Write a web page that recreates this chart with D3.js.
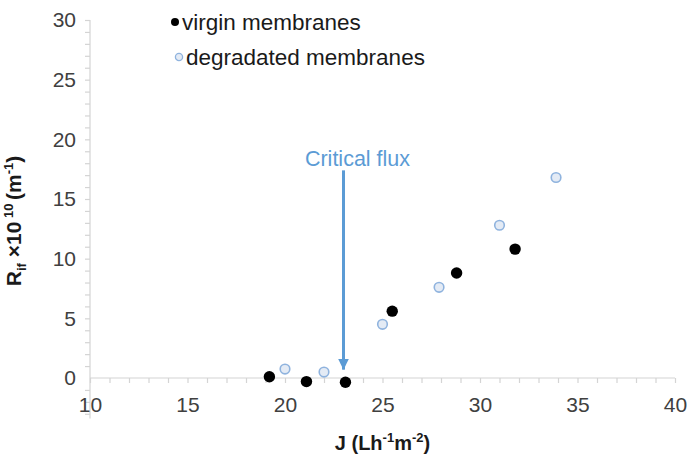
<!DOCTYPE html>
<html>
<head>
<meta charset="utf-8">
<script src="https://cdn.jsdelivr.net/npm/d3@7"></script>
<style>
  body { margin: 0; background: #fff; }
  svg { display: block; font-family: 'Liberation Sans', Arial, sans-serif; }
</style>
</head>
<body>
<div id="chart"></div>
<script>
// Resistance vs flux data
const virginJ = [19.2, 21.1, 23.1, 25.5, 28.8, 31.8]
const virginR = [0.1, -0.3, -0.35, 5.6, 8.8, 10.8]
const degradedJ = [20.0, 22.0, 25.0, 27.9, 31.0, 33.9]
const degradedR = [0.75, 0.5, 4.5, 7.6, 12.8, 16.8]
const xTicks = [10, 15, 20, 25, 30, 35, 40]
const yTicks = [0, 5, 10, 15, 20, 25, 30]
const seriesNames = ['virgin membranes', 'degradated membranes']
const criticalFlux = 23
const arrowFrom = 17.4
const arrowTo = 0.7

const width = 689
const height = 456
const margin = { top: 20, right: 14, bottom: 78, left: 90 }

const svg = d3
  .select('#chart')
  .append('svg')
  .attr('width', width)
  .attr('height', height)

const x = d3.scaleLinear().domain([10, 40]).range([margin.left, width - margin.right])
const y = d3.scaleLinear().domain([0, 30]).range([height - margin.bottom, margin.top])

const axisColor = '#d4d4d4'
const labelColor = '#404040'

// y axis: minor tick every unit, labels on multiples of 5, runs a bit below zero
const yAxis = d3
  .axisLeft(y)
  .tickValues(d3.range(-3, 31))
  .tickSize(5)
  .tickPadding(9)
  .tickFormat((d) => (yTicks.includes(d) ? d : ''))

const yG = svg.append('g').attr('transform', `translate(${x(10)},0)`).call(yAxis)
yG.select('.domain').attr('d', `M0,${y(-3.4)}V${y(30)}`)

// x axis crosses at zero
const xAxis = d3
  .axisBottom(x)
  .tickValues(d3.range(10, 41))
  .tickSize(5)
  .tickPadding(14)
  .tickFormat((d) => (xTicks.includes(d) ? d : ''))

const xG = svg.append('g').attr('transform', `translate(0,${y(0)})`).call(xAxis)
xG.select('.domain').attr('d', `M${x(10)},0H${x(40)}`)

svg.selectAll('.domain').attr('stroke', axisColor).attr('stroke-width', 1.2)
svg.selectAll('.tick line').attr('stroke', axisColor).attr('stroke-width', 1.2)
svg
  .selectAll('.tick text')
  .attr('fill', labelColor)
  .style('font-size', '21px')
  .style('font-family', "'Liberation Sans', Arial, sans-serif")
yG.selectAll('.tick').filter((d) => d === 0).select('line').attr('x2', 0)

// axis titles
const xTitle = svg
  .append('text')
  .attr('x', (x(10) + x(40)) / 2)
  .attr('y', 450)
  .attr('text-anchor', 'middle')
  .attr('font-weight', 'bold')
  .attr('font-size', 20)
  .attr('fill', '#1a1a1a')
xTitle.append('tspan').text('J (Lh')
xTitle.append('tspan').attr('font-size', 13).attr('dy', -8).text('-1')
xTitle.append('tspan').attr('dy', 8).text('m')
xTitle.append('tspan').attr('font-size', 13).attr('dy', -8).text('-2')
xTitle.append('tspan').attr('dy', 8).text(')')

const yTitle = svg
  .append('text')
  .attr('transform', `translate(21,221) rotate(-90)`)
  .attr('text-anchor', 'middle')
  .attr('font-weight', 'bold')
  .attr('font-size', 21)
  .attr('fill', '#1a1a1a')
yTitle.append('tspan').text('R')
yTitle.append('tspan').attr('font-size', 13).attr('dy', 5).text('if')
yTitle.append('tspan').attr('dy', -5).text(' \u00d710')
yTitle.append('tspan').attr('font-size', 13).attr('dy', -8).text(' 10 ')
yTitle.append('tspan').attr('dy', 8).text('(m')
yTitle.append('tspan').attr('font-size', 13).attr('dy', -8).text('-1')
yTitle.append('tspan').attr('dy', 8).text(')')

// critical flux arrow
const arrowColor = '#5b9bd5'
svg
  .append('defs')
  .append('marker')
  .attr('id', 'head')
  .attr('viewBox', '0 0 10 10')
  .attr('refX', 10)
  .attr('refY', 5)
  .attr('markerWidth', 3.6)
  .attr('markerHeight', 3.6)
  .attr('orient', 'auto')
  .append('path')
  .attr('d', 'M0,0L10,5L0,10Z')
  .attr('fill', arrowColor)

svg
  .append('line')
  .attr('x1', x(criticalFlux))
  .attr('x2', x(criticalFlux))
  .attr('y1', y(arrowFrom))
  .attr('y2', y(arrowTo))
  .attr('stroke', arrowColor)
  .attr('stroke-width', 3)
  .attr('marker-end', 'url(#head)')

svg
  .append('text')
  .attr('x', x(criticalFlux) + 14)
  .attr('y', y(arrowFrom) - 4)
  .attr('text-anchor', 'middle')
  .attr('font-size', 21.5)
  .attr('fill', arrowColor)
  .text('Critical flux')

// points
const virgin = virginJ.map((j, i) => ({ j, r: virginR[i] }))
const degraded = degradedJ.map((j, i) => ({ j, r: degradedR[i] }))

svg
  .append('g')
  .selectAll('circle')
  .data(virgin)
  .join('circle')
  .attr('cx', (d) => x(d.j))
  .attr('cy', (d) => y(d.r))
  .attr('r', 5.7)
  .attr('fill', '#000')

svg
  .append('g')
  .selectAll('circle')
  .data(degraded)
  .join('circle')
  .attr('cx', (d) => x(d.j))
  .attr('cy', (d) => y(d.r))
  .attr('r', 4.8)
  .attr('fill', '#e4ebf5')
  .attr('stroke', '#8fb3de')
  .attr('stroke-width', 1.6)

// legend
const legend = svg.append('g').attr('transform', 'translate(175,0)')
const legendRows = [
  { name: seriesNames[0], y: 22, dx: 7, fill: '#000', stroke: 'none', r: 4 },
  { name: seriesNames[1], y: 57, dx: 11, fill: '#e4ebf5', stroke: '#8fb3de', r: 3.6 },
]
legendRows.forEach((row) => {
  legend
    .append('circle')
    .attr('cx', row.dx - 7)
    .attr('cy', row.y)
    .attr('r', row.r)
    .attr('fill', row.fill)
    .attr('stroke', row.stroke)
    .attr('stroke-width', 1.3)
  legend
    .append('text')
    .attr('x', row.dx)
    .attr('y', row.y + 7.5)
    .attr('font-size', 22.5)
    .attr('fill', '#1a1a1a')
    .text(row.name)
})
</script>
</body>
</html>
